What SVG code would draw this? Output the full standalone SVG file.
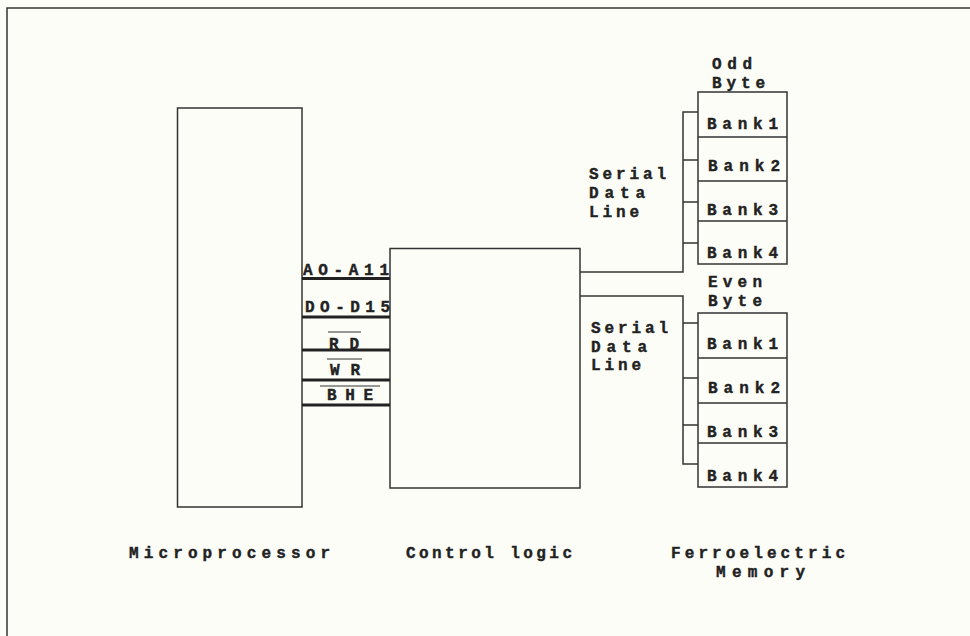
<svg xmlns="http://www.w3.org/2000/svg" width="970" height="636" viewBox="0 0 970 636">
<style>
.t{font-family:"Liberation Mono","DejaVu Sans Mono",monospace;font-weight:bold;font-size:16px;fill:#222;stroke:#222;stroke-width:0.4}
.b{fill:none;stroke:#333;stroke-width:1.5}
.ln{fill:none;stroke:#333;stroke-width:1.5}
.bus{fill:none;stroke:#222;stroke-width:3}
.ov{fill:none;stroke:#333;stroke-width:1}
</style>
<rect width="970" height="636" fill="#fdfdf8"/>
<g id="frame"><path class="b" d="M7 636 V8 H970" stroke-width="2"/></g>
<g id="microprocessor">
<rect class="b" x="177.5" y="108" width="124.5" height="399"/>
<text class="t" x="129" y="558" textLength="201" lengthAdjust="spacing">Microprocessor</text>
</g>
<g id="control-logic">
<rect class="b" x="390" y="248.5" width="190" height="239.5"/>
<text class="t" x="406" y="558" textLength="166" lengthAdjust="spacing">Control logic</text>
</g>
<g id="odd-byte">
<text class="t" x="712" y="69" textLength="40" lengthAdjust="spacing">Odd</text>
<text class="t" x="712" y="88" textLength="53" lengthAdjust="spacing">Byte</text>
<rect class="b" x="698" y="92" width="89" height="172"/>
<path class="b" d="M698 137 H787 M698 181 H787 M698 221 H787"/>
<text class="t" x="707" y="129" textLength="71" lengthAdjust="spacing">Bank1</text>
<text class="t" x="708" y="171" textLength="72" lengthAdjust="spacing">Bank2</text>
<text class="t" x="707" y="215" textLength="71" lengthAdjust="spacing">Bank3</text>
<text class="t" x="707" y="258" textLength="71" lengthAdjust="spacing">Bank4</text>
</g>
<g id="even-byte">
<text class="t" x="708" y="287" textLength="54" lengthAdjust="spacing">Even</text>
<text class="t" x="708" y="306" textLength="54" lengthAdjust="spacing">Byte</text>
<rect class="b" x="698" y="313" width="89" height="174"/>
<path class="b" d="M698 358 H787 M698 403 H787 M698 443 H787"/>
<text class="t" x="707" y="349" textLength="71" lengthAdjust="spacing">Bank1</text>
<text class="t" x="708" y="393" textLength="72" lengthAdjust="spacing">Bank2</text>
<text class="t" x="707" y="437" textLength="71" lengthAdjust="spacing">Bank3</text>
<text class="t" x="707" y="481" textLength="71" lengthAdjust="spacing">Bank4</text>
</g>
<g id="ferroelectric-memory">
<text class="t" x="671" y="558" textLength="174" lengthAdjust="spacing">Ferroelectric</text>
<text class="t" x="716" y="577" textLength="89" lengthAdjust="spacing">Memory</text>
</g>
<g id="connectors">
<path class="ln" d="M580 272 H683 V112 H698 M683 160 H698 M683 202 H698 M683 243 H698"/>
<path class="ln" d="M580 296 H683 V464 H698 M683 323 H698 M683 378 H698 M683 425 H698"/>
<path class="bus" d="M302 278.5 H390 M302 317 H390 M302 350 H390 M302 380 H390 M302 405 H390"/>
<path class="ov" d="M328 332 H361 M327 359 H362 M320 386 H380"/>
</g>
<g id="bus-labels">
<text class="t" x="303" y="275" textLength="86" lengthAdjust="spacing">AO-A11</text>
<text class="t" x="305" y="312" textLength="85" lengthAdjust="spacing">DO-D15</text>
<text class="t" x="329" y="349" textLength="30" lengthAdjust="spacing">RD</text>
<text class="t" x="330" y="375" textLength="30" lengthAdjust="spacing">WR</text>
<text class="t" x="327" y="400" textLength="46" lengthAdjust="spacing">BHE</text>
</g>
<g id="serial-labels">
<text class="t" x="589" y="179" textLength="77" lengthAdjust="spacing">Serial</text>
<text class="t" x="589" y="198" textLength="56" lengthAdjust="spacing">Data</text>
<text class="t" x="589" y="217" textLength="50" lengthAdjust="spacing">Line</text>
<text class="t" x="591" y="333" textLength="77" lengthAdjust="spacing">Serial</text>
<text class="t" x="591" y="352" textLength="56" lengthAdjust="spacing">Data</text>
<text class="t" x="591" y="370" textLength="50" lengthAdjust="spacing">Line</text>
</g>
</svg>
